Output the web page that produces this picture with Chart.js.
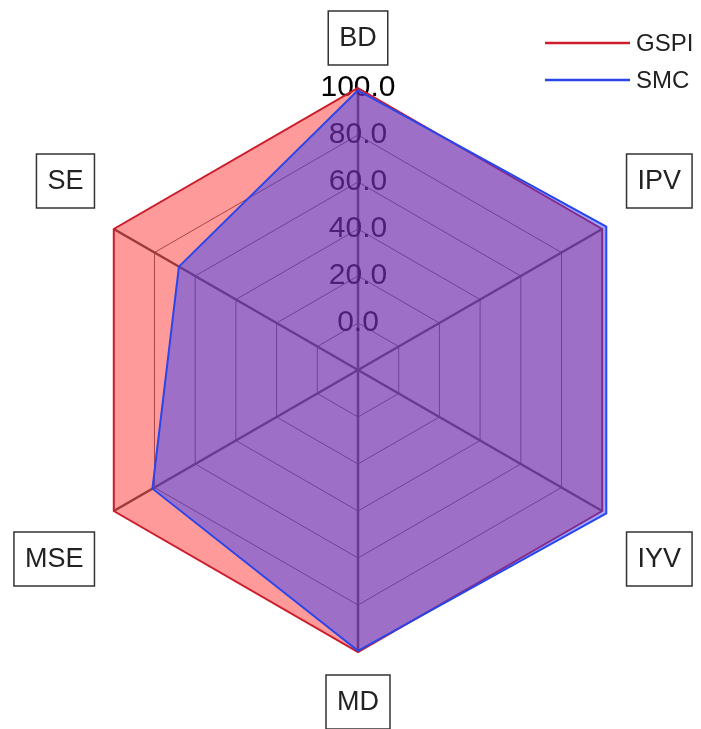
<!DOCTYPE html>
<html>
<head>
<meta charset="utf-8">
<script src="https://cdn.jsdelivr.net/npm/chart.js@4"></script>
<style>
  html, body { margin: 0; padding: 0; background: #ffffff; }
  #wrap { width: 701px; height: 729px; position: relative; }
</style>
</head>
<body>
<div id="wrap"><canvas id="c" width="701" height="729"></canvas></div>
<script>
// ---- data ----
const categories = ['BD', 'IPV', 'IYV', 'MD', 'MSE', 'SE'];
const seriesNames = ['GSPI', 'SMC'];
const gspiValues = [100, 100, 100, 100, 100, 100];
const smcValues = [99, 102, 102, 99.5, 81, 68];
const tickValues = [-20, 0, 20, 40, 60, 80, 100];

const FONT = '"Liberation Sans", Arial, Helvetica, sans-serif';

const boxedPointLabels = {
  id: 'boxedPointLabels',
  afterDraw(chart) {
    const scale = chart.scales.r;
    const ctx = chart.ctx;
    ctx.save();
    ctx.font = '27px ' + FONT;
    ctx.textAlign = 'center';
    ctx.textBaseline = 'middle';
    chart.data.labels.forEach((lab, i) => {
      const p = scale.getPointPosition(i, scale.drawingArea + 20);
      const dx = p.x - scale.xCenter, dy = p.y - scale.yCenter;
      const w = ctx.measureText(lab).width + 22;
      const h = 54;
      let left, top;
      if (Math.abs(dx) < 5) {
        left = p.x - w / 2;
        top = dy < 0 ? p.y - 3 - h : p.y + 3;
      } else {
        left = dx < 0 ? p.x - 2 - w : p.x + 7;
        top = dy < 0 ? p.y - 11 - h : p.y + 11;
      }
      ctx.fillStyle = '#ffffff';
      ctx.fillRect(left, top, w, h);
      ctx.strokeStyle = '#333333';
      ctx.lineWidth = 1.5;
      ctx.strokeRect(left, top, w, h);
      ctx.fillStyle = '#222222';
      ctx.fillText(lab, left + w / 2, top + h / 2 + 1);
    });
    ctx.restore();
  }
};

const lineLegend = {
  id: 'lineLegend',
  afterDraw(chart) {
    const ctx = chart.ctx;
    ctx.save();
    ctx.font = '24px ' + FONT;
    ctx.textAlign = 'left';
    ctx.textBaseline = 'middle';
    chart.data.datasets.forEach((ds, i) => {
      const y = 43 + i * 37;
      ctx.strokeStyle = ds.borderColor;
      ctx.lineWidth = 2.5;
      ctx.beginPath();
      ctx.moveTo(545, y);
      ctx.lineTo(630, y);
      ctx.stroke();
      ctx.fillStyle = '#222222';
      ctx.fillText(ds.label, 636, y + 1);
    });
    ctx.restore();
  }
};

new Chart(document.getElementById('c'), {
  type: 'radar',
  data: {
    labels: categories,
    datasets: [
      {
        label: seriesNames[0],
        data: gspiValues,
        borderColor: 'rgb(205, 30, 45)',
        backgroundColor: 'rgba(255, 20, 20, 0.43)',
        borderWidth: 2,
        pointRadius: 0,
        fill: 'start',
        order: 1
      },
      {
        label: seriesNames[1],
        data: smcValues,
        borderColor: 'rgb(40, 70, 235)',
        backgroundColor: 'rgba(40, 60, 255, 0.45)',
        borderWidth: 2,
        pointRadius: 0,
        fill: 'start',
        order: 0
      }
    ]
  },
  options: {
    responsive: false,
    animation: false,
    layout: { padding: { left: 59, right: 44, top: 71, bottom: 60 } },
    plugins: {
      legend: { display: false },
      tooltip: { enabled: false },
      filler: { propagate: false }
    },
    scales: {
      r: {
        min: tickValues[0],
        max: tickValues[tickValues.length - 1],
        afterBuildTicks(scale) {
          scale.ticks = tickValues.map(v => ({ value: v }));
        },
        ticks: {
          stepSize: 20,
          showLabelBackdrop: false,
          color: '#000000',
          font: { family: FONT, size: 30 },
          callback: v => (v < 0 ? '' : v.toFixed(1))
        },
        grid: { color: '#6a6a6a', lineWidth: 1 },
        angleLines: { color: '#555555', lineWidth: 2.5 },
        pointLabels: { display: false }
      }
    }
  },
  plugins: [boxedPointLabels, lineLegend]
});
</script>
</body>
</html>
